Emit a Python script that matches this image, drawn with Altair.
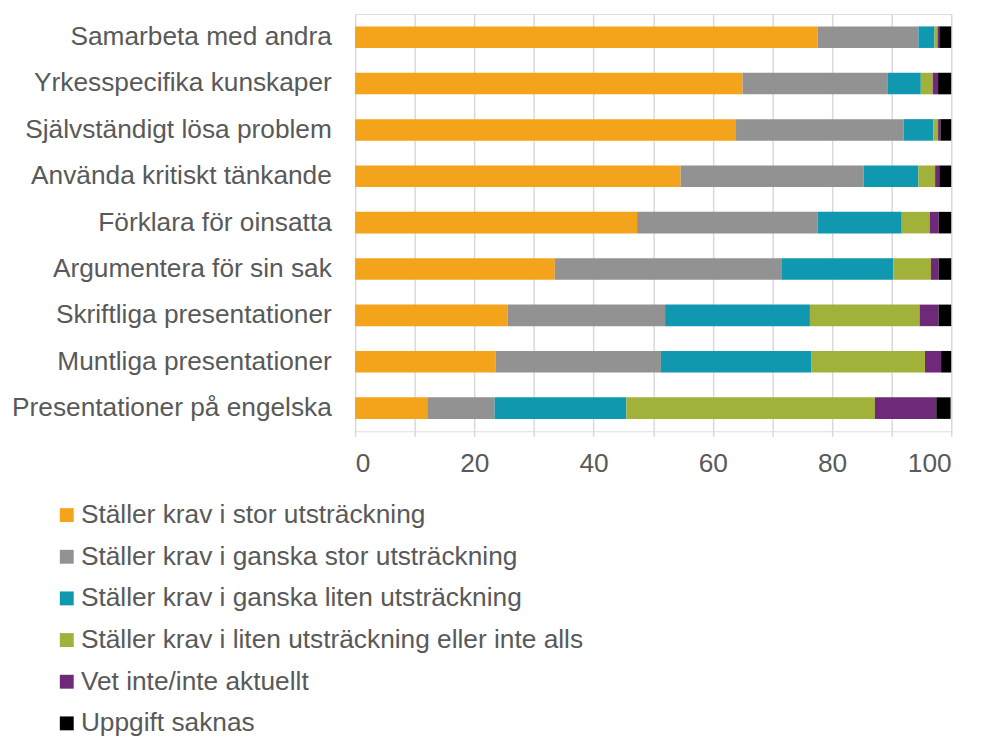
import altair as alt
import pandas as pd

categories = [
    "Samarbeta med andra",
    "Yrkesspecifika kunskaper",
    "Självständigt lösa problem",
    "Använda kritiskt tänkande",
    "Förklara för oinsatta",
    "Argumentera för sin sak",
    "Skriftliga presentationer",
    "Muntliga presentationer",
    "Presentationer på engelska",
]
series_names = [
    "Ställer krav i stor utsträckning",
    "Ställer krav i ganska stor utsträckning",
    "Ställer krav i ganska liten utsträckning",
    "Ställer krav i liten utsträckning eller inte alls",
    "\u00a0Vet inte/inte aktuellt",
    "Uppgift saknas",
]
stor = [77.6, 65.0, 63.9, 54.6, 47.3, 33.5, 25.6, 23.6, 12.1]
ganska_stor = [16.9, 24.3, 28.1, 30.7, 30.3, 38.0, 26.4, 27.7, 11.3]
ganska_liten = [2.7, 5.6, 5.0, 9.2, 14.1, 18.8, 24.3, 25.2, 22.1]
liten = [0.5, 2.0, 0.8, 2.8, 4.7, 6.3, 18.4, 19.1, 41.7]
vet_inte = [0.3, 0.9, 0.4, 0.7, 1.5, 1.3, 3.2, 2.7, 10.3]
saknas = [2.0, 2.2, 1.8, 2.0, 2.1, 2.1, 2.1, 1.7, 2.4]
colors = ["#F4A41A", "#929292", "#1098B0", "#A2B13A", "#6E2A78", "#000000"]

series_values = [stor, ganska_stor, ganska_liten, liten, vet_inte, saknas]
rows = []
for si, (name, vals) in enumerate(zip(series_names, series_values)):
    for cat, v in zip(categories, vals):
        rows.append({"kategori": cat, "serie": name, "varde": v, "ordning": si})
df = pd.DataFrame(rows)

FONT = "Liberation Sans"
TXT = "#595959"
FS = 26.5
n = len(categories)
step = 46.75
height = n * step

chart = alt.Chart(df).mark_bar().encode(
    x=alt.X("sum(varde):Q",
            stack="zero",
            scale=alt.Scale(domain=[0, 100], nice=False),
            axis=alt.Axis(title=None, values=list(range(0, 101, 10)),
                          labelExpr="datum.value % 20 == 0 ? datum.label : ''",
                          grid=True, gridColor="#d9d9d9", gridWidth=1.5,
                          domain=False, ticks=True, tickColor="#d9d9d9", tickSize=5,
                          tickWidth=1.5,
                          labelFont=FONT, labelFontSize=FS, labelColor=TXT,
                          labelPadding=15)),
    y=alt.Y("kategori:N", sort=categories,
            scale=alt.Scale(paddingInner=0.535, paddingOuter=0.2675),
            axis=alt.Axis(title=None, domain=False, ticks=False, grid=False,
                          labelFont=FONT, labelFontSize=FS, labelColor=TXT,
                          labelPadding=24, labelLimit=400)),
    color=alt.Color("serie:N",
                    scale=alt.Scale(domain=series_names, range=colors),
                    legend=alt.Legend(title=None, orient="none", legendX=-304, legendY=492,
                                      direction="vertical", symbolType="square",
                                      symbolSize=196, symbolStrokeWidth=0,
                                      labelFont=FONT, labelFontSize=FS, labelColor=TXT,
                                      labelOffset=1, rowPadding=15, labelLimit=800)),
    order=alt.Order("ordning:Q", sort="ascending"),
).properties(
    width=601, height=height,
    autosize=alt.AutoSizeParams(type="none"),
    padding={"left": 350, "top": 3, "right": 25, "bottom": 312},
).configure_view(stroke=None).configure(font=FONT)

chart.save("out.html", embed_options={"renderer": "svg", "actions": False})
